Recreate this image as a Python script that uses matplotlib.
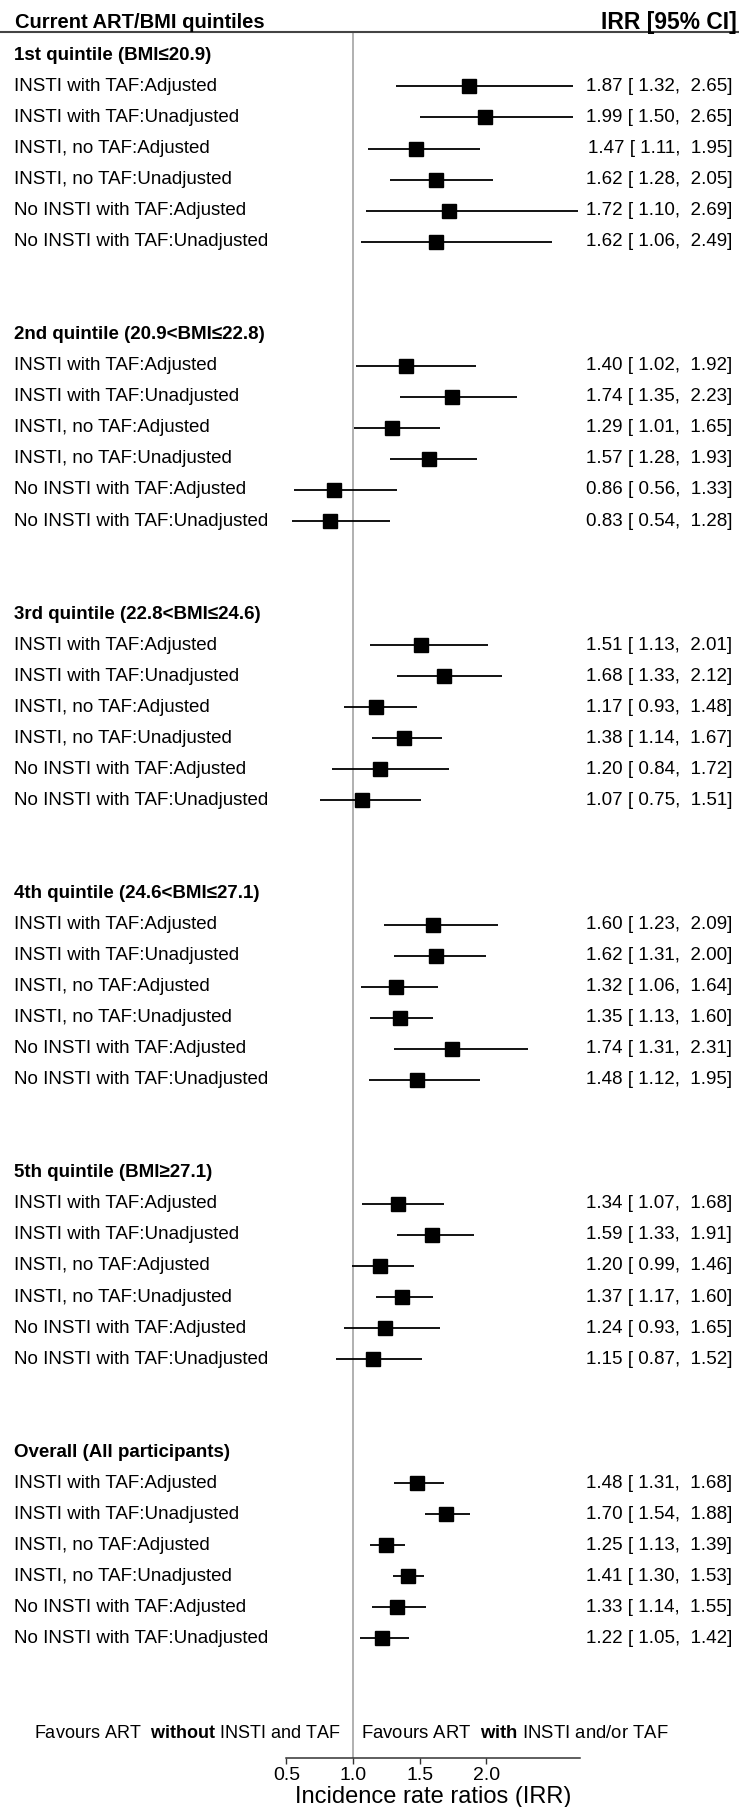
import numpy as np
import matplotlib.pyplot as plt

plt.rcParams['font.family'] = ['Liberation Sans', 'DejaVu Sans']
plt.rcParams['mathtext.fontset'] = 'custom'
plt.rcParams['mathtext.rm'] = 'Liberation Sans'
plt.rcParams['mathtext.bf'] = 'Liberation Sans:bold'

groups = ['1st quintile (BMI≤20.9)', '2nd quintile (20.9<BMI≤22.8)',
          '3rd quintile (22.8<BMI≤24.6)', '4th quintile (24.6<BMI≤27.1)',
          '5th quintile (BMI≥27.1)', 'Overall (All participants)']
comparisons = ['INSTI with TAF:Adjusted', 'INSTI with TAF:Unadjusted',
               'INSTI, no TAF:Adjusted', 'INSTI, no TAF:Unadjusted',
               'No INSTI with TAF:Adjusted', 'No INSTI with TAF:Unadjusted']

irr_est = [[1.87, 1.99, 1.47, 1.62, 1.72, 1.62],
           [1.40, 1.74, 1.29, 1.57, 0.86, 0.83],
           [1.51, 1.68, 1.17, 1.38, 1.20, 1.07],
           [1.60, 1.62, 1.32, 1.35, 1.74, 1.48],
           [1.34, 1.59, 1.20, 1.37, 1.24, 1.15],
           [1.48, 1.70, 1.25, 1.41, 1.33, 1.22]]
ci_low = [[1.32, 1.50, 1.11, 1.28, 1.10, 1.06],
          [1.02, 1.35, 1.01, 1.28, 0.56, 0.54],
          [1.13, 1.33, 0.93, 1.14, 0.84, 0.75],
          [1.23, 1.31, 1.06, 1.13, 1.31, 1.12],
          [1.07, 1.33, 0.99, 1.17, 0.93, 0.87],
          [1.31, 1.54, 1.13, 1.30, 1.14, 1.05]]
ci_high = [[2.65, 2.65, 1.95, 2.05, 2.69, 2.49],
           [1.92, 2.23, 1.65, 1.93, 1.33, 1.28],
           [2.01, 2.12, 1.48, 1.67, 1.72, 1.51],
           [2.09, 2.00, 1.64, 1.60, 2.31, 1.95],
           [1.68, 1.91, 1.46, 1.60, 1.65, 1.52],
           [1.68, 1.88, 1.39, 1.53, 1.55, 1.42]]
xticks = [0.5, 1.0, 1.5, 2.0]

fig = plt.figure(figsize=(7.39, 18.07), dpi=100)
ax = fig.add_axes([0, 0, 1, 1])
ax.set_xlim(-1.648, 3.896)
ax.set_ylim(56.43, -1.785)

ytr = ax.get_yaxis_transform()
fs = 13.5

for g, name in enumerate(groups):
    r0 = 9 * g
    ax.text(0.019, r0, name, transform=ytr, ha='left', va='center',
            fontsize=fs, fontweight='bold')
    for i, lab in enumerate(comparisons):
        r = r0 + 1 + i
        e, lo, hi = irr_est[g][i], ci_low[g][i], ci_high[g][i]
        ax.hlines(r, lo, hi, color='black', lw=1.3)
        ax.plot(e, r, marker='s', ms=10, color='black', ls='none')
        ax.text(0.019, r, lab, transform=ytr, ha='left', va='center', fontsize=fs)
        ax.text(0.991, r, f'{e:.2f} [ {lo:.2f},  {hi:.2f}]', transform=ytr,
                ha='right', va='center', fontsize=fs)

# header
ax.text(0.02, -1.076, 'Current ART/BMI quintiles', transform=ytr, ha='left',
        va='center', fontsize=14.5, fontweight='bold')
ax.text(0.997, -1.076, 'IRR [95% CI]', transform=ytr, ha='right',
        va='center', fontsize=16.5, fontweight='bold')
ax.axhline(-0.754, color='#444444', lw=1.5)

# reference line at 1
ax.vlines(1.0, -0.754, 54.85, color='#aaaaaa', lw=1.3, zorder=0)

ax.annotate(r'Favours ART  $\mathbf{without}$ INSTI and TAF', xy=(1.0, 54.05),
            xytext=(-9, 0), textcoords='offset points', ha='right', va='center',
            fontsize=13)
ax.annotate(r'Favours ART  $\mathbf{with}$ INSTI and/or TAF', xy=(1.0, 54.05),
            xytext=(6, 0), textcoords='offset points', ha='left', va='center',
            fontsize=13.3)

for s in ['top', 'left', 'right']:
    ax.spines[s].set_visible(False)
ax.spines['bottom'].set_position(('data', 54.85))
ax.spines['bottom'].set_bounds(0.5, 2.7)
ax.spines['bottom'].set_color('#333333')
ax.spines['bottom'].set_linewidth(1.1)
ax.set_xticks(xticks)
ax.set_xticklabels([f'{t:.1f}' for t in xticks])
ax.tick_params(axis='x', direction='out', length=4.5, width=1, color='#333333',
               labelsize=14, pad=2)
ax.set_yticks([])
ax.text(1.6, 56.11, 'Incidence rate ratios (IRR)', ha='center', va='center',
        fontsize=17)

fig.savefig('out.png', dpi=100)
